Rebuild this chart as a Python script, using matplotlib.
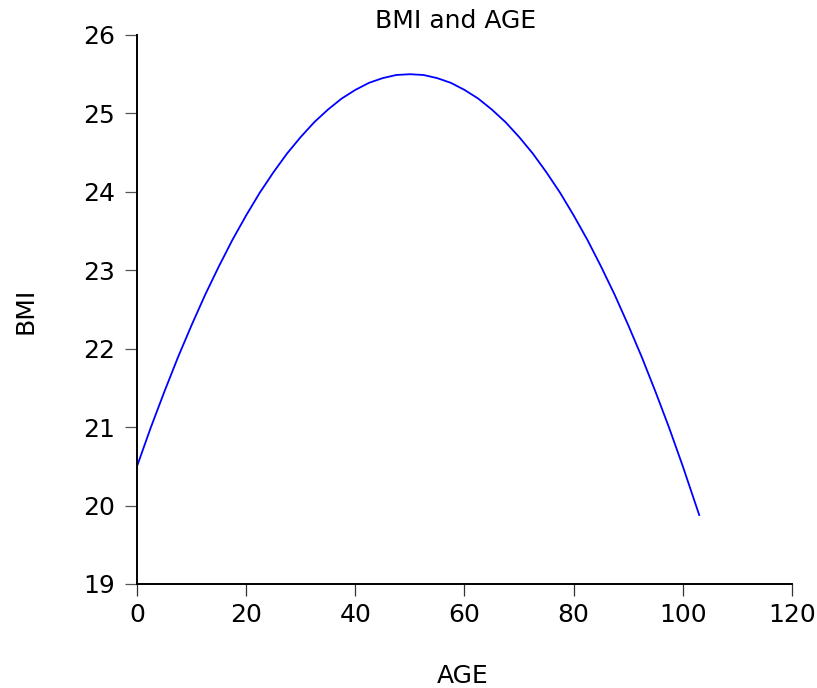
import numpy as np
import matplotlib
matplotlib.use("Agg")
import matplotlib.pyplot as plt

plt.rcParams['font.family'] = ['DejaVu Sans']

# values
age = [0, 2.5, 5, 7.5, 10, 12.5, 15, 17.5, 20, 22.5, 25, 27.5, 30, 32.5, 35, 37.5, 40,
       42.5, 45, 47.5, 50, 52.5, 55, 57.5, 60, 62.5, 65, 67.5, 70, 72.5, 75, 77.5, 80,
       82.5, 85, 87.5, 90, 92.5, 95, 97.5, 100, 103]
bmi = [20.50, 20.99, 21.45, 21.89, 22.30, 22.69, 23.05, 23.39, 23.70, 23.99, 24.25,
       24.49, 24.70, 24.89, 25.05, 25.19, 25.30, 25.39, 25.45, 25.49, 25.50, 25.49,
       25.45, 25.39, 25.30, 25.19, 25.05, 24.89, 24.70, 24.49, 24.25, 23.99, 23.70,
       23.39, 23.05, 22.69, 22.30, 21.89, 21.45, 20.99, 20.50, 19.88]

x_ticks = [0, 20, 40, 60, 80, 100, 120]
y_ticks = [19, 20, 21, 22, 23, 24, 25, 26]

fs = 18

fig = plt.figure(figsize=(8.17, 6.88), dpi=100)
ax = fig.add_axes([137/817, 1 - 584/688, 655/817, 549/688])

ax.plot(age, bmi, color="#0000ff", lw=1.3)

ax.set_xlim(0, 120)
ax.set_ylim(19, 26)
ax.set_xticks(x_ticks)
ax.set_yticks(y_ticks)

for s in ["top", "right"]:
    ax.spines[s].set_visible(False)
for s in ["left", "bottom"]:
    ax.spines[s].set_linewidth(1.4)

ax.tick_params(axis="y", direction="out", length=9, width=0.9, pad=7,
               labelsize=fs, color="#555555")
ax.tick_params(axis="x", direction="out", length=8.5, width=0.9, pad=5,
               labelsize=fs, color="#333333")

ax.set_title("BMI and AGE", fontsize=fs, pad=5, x=(456 - 137) / 655)
ax.set_xlabel("AGE", fontsize=fs, va="center")
ax.set_ylabel("BMI", fontsize=fs, va="center")
ax.xaxis.set_label_coords((463 - 137) / 655, (584 - 676) / 549)
ax.yaxis.set_label_coords((25 - 137) / 655, (584 - 311) / 549)

fig.savefig("out.png", dpi=100)
